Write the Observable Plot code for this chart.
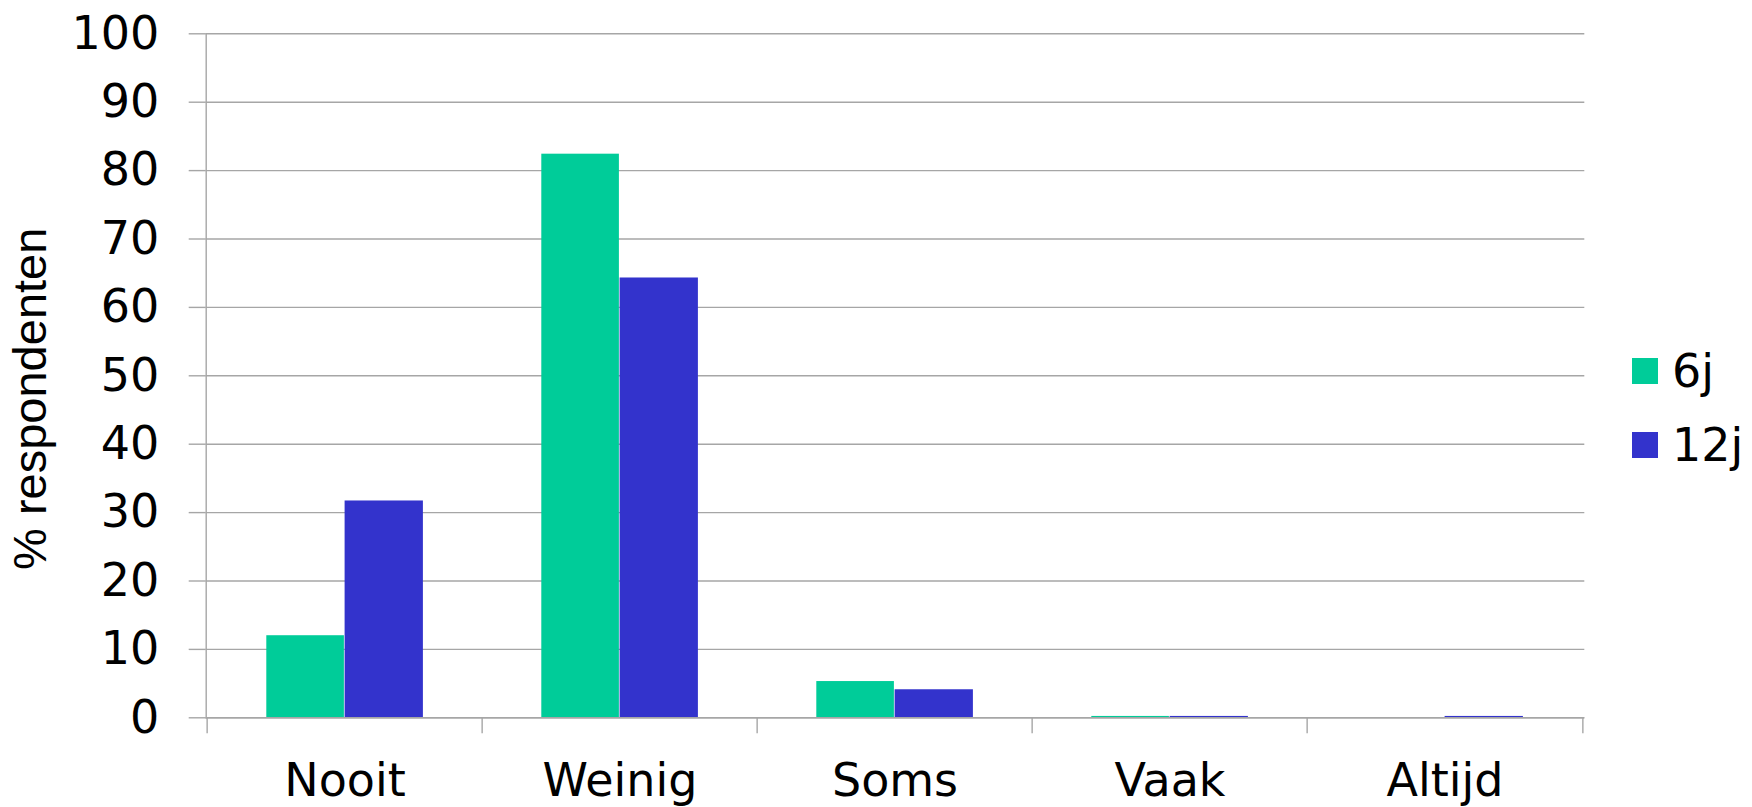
<!DOCTYPE html>
<html>
<head>
<meta charset="utf-8">
<script src="https://cdn.jsdelivr.net/npm/d3@7"></script>
<script src="https://cdn.jsdelivr.net/npm/@observablehq/plot@0.6"></script>
<style>
  html, body { margin: 0; padding: 0; background: #fff; }
  #wrap { position: relative; width: 1752px; height: 807px; }
  #legend { position: absolute; left: 1632px; top: 334px; font-family: "DejaVu Sans", Verdana, sans-serif; font-size: 46px; color: #000; }
  .item { display: flex; align-items: center; height: 74px; }
  .sw { width: 26px; height: 26px; margin-right: 14px; }
</style>
</head>
<body>
<div id="wrap"><div id="legend"></div></div>
<script>
const categories = ["Nooit", "Weinig", "Soms", "Vaak", "Altijd"];
const series = ["6j", "12j"];
const values6j = [12.0, 82.4, 5.3, 0.2, 0];
const values12j = [31.7, 64.3, 4.1, 0.2, 0.2];
const colors = ["#00CC99", "#3333CC"];
const yTicks = [0, 10, 20, 30, 40, 50, 60, 70, 80, 90, 100];
const yLabel = "% respondenten";

const rows6 = categories.map((c, i) => ({category: c, series: series[0], value: values6j[i]}));
const rows12 = categories.map((c, i) => ({category: c, series: series[1], value: values12j[i]}));

const W = 1752, H = 807;
const mL = 205.7, mR = 167.7, mT = 33.3, mB = 89.7;
const bw = (W - mL - mR) / categories.length;
const gridColor = "#a6a6a6";

const chart = Plot.plot({
  width: W,
  height: H,
  marginLeft: mL,
  marginRight: mR,
  marginTop: mT,
  marginBottom: mB,
  style: {fontFamily: "DejaVu Sans, Verdana, sans-serif", fontSize: "46px", color: "#000", background: "#fff"},
  x: {domain: categories, padding: 0},
  y: {domain: [0, 100]},
  marks: [
    Plot.gridY(yTicks, {stroke: gridColor, strokeOpacity: 1, strokeWidth: 1.4}),
    Plot.frame({anchor: "left", stroke: gridColor, strokeWidth: 1.4}),
    Plot.axisY(yTicks, {tickSize: 17, tickPadding: 30, stroke: gridColor, strokeWidth: 1.4, strokeOpacity: 1, fill: "#000", label: null, fontSize: 46}),
    Plot.axisX(categories, {tickSize: 16, text: null, dx: -bw / 2, stroke: gridColor, strokeWidth: 1.4, strokeOpacity: 1, label: null}),
    Plot.axisX([categories[categories.length - 1]], {tickSize: 16, text: null, dx: bw / 2, stroke: gridColor, strokeWidth: 1.4, strokeOpacity: 1, label: null}),
    Plot.axisX(categories, {tickSize: 0, tickPadding: 46, fill: "#000", label: null, fontSize: 46}),
    Plot.barY(rows6, {x: "category", y: "value", fill: colors[0], insetLeft: 59.3, insetRight: 138.1}),
    Plot.barY(rows12, {x: "category", y: "value", fill: colors[1], insetLeft: 137.6, insetRight: 59.1}),
    Plot.ruleY([0], {stroke: gridColor, strokeWidth: 1.4}),
    Plot.text([yLabel], {frameAnchor: "left", text: d => d, rotate: -90, dx: -175, dy: 23, lineAnchor: "middle", textAnchor: "middle", fontFamily: "Liberation Sans, Arial, sans-serif", fontSize: 47, fill: "#000"})
  ]
});
document.getElementById("wrap").prepend(chart);

const legend = document.getElementById("legend");
series.forEach((s, i) => {
  const item = document.createElement("div");
  item.className = "item";
  const sw = document.createElement("div");
  sw.className = "sw";
  sw.style.background = colors[i];
  const t = document.createElement("span");
  t.textContent = s;
  item.appendChild(sw);
  item.appendChild(t);
  legend.appendChild(item);
});
</script>
</body>
</html>
